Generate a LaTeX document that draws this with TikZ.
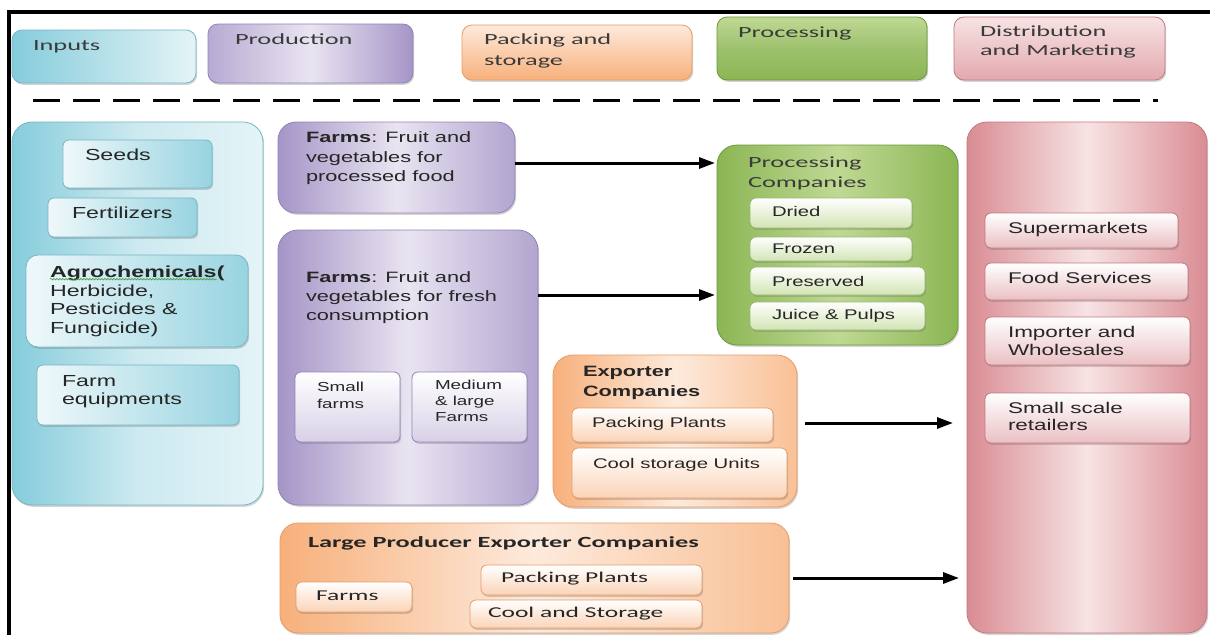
\documentclass[tikz,border=0pt]{standalone}
\usepackage{fontspec}
\newfontfamily\arialx{Liberation Sans}[FakeStretch=1.45]
\newfontfamily\calx{Carlito}[FakeStretch=1.7]
\usetikzlibrary{shadows,arrows.meta,decorations.pathmorphing}
\newcommand\fsz[2]{\fontsize{#1}{#2}\selectfont}

\definecolor{ink}{HTML}{262626}
\definecolor{inkc}{HTML}{3A3A3A}
\definecolor{blueD}{HTML}{86CCDB}
\definecolor{blueL}{HTML}{E4F4F7}
\definecolor{blueB}{HTML}{78B5C4}
\definecolor{purD}{HTML}{A595C7}
\definecolor{purL}{HTML}{E9E4F1}
\definecolor{purB}{HTML}{9383B6}
\definecolor{orD}{HTML}{F7B07B}
\definecolor{orL}{HTML}{FDEADC}
\definecolor{orB}{HTML}{E59D68}
\definecolor{grD}{HTML}{8BB654}
\definecolor{grL}{HTML}{BFD993}
\definecolor{grB}{HTML}{6C983A}
\definecolor{pkD}{HTML}{D98C93}
\definecolor{pkL}{HTML}{F7E3E4}
\definecolor{pkB}{HTML}{C47880}
\definecolor{squig}{HTML}{3E9A3E}

\begin{document}
\begin{tikzpicture}[x=1pt,y=-1pt,
  bx/.style={anchor=north west, inner sep=0pt, outer sep=0pt, line width=0.8pt},
  shd/.style={drop shadow={shadow xshift=1.2pt, shadow yshift=-1.8pt, opacity=0.28, fill=black!60}},
  big/.style={bx, shd, rounded corners=20pt},
  leg/.style={bx, shd, rounded corners=10pt},
  sub/.style={bx, shd, rounded corners=6pt},
  % colour schemes
  blueBig/.style={draw=blueB, left color=blueD, right color=blueL, middle color=blueL!75!blueD},
  blueSub/.style={draw=blueB, left color=blueL!60!white, right color=blueD!85},
  purBig/.style={draw=purB, left color=purD, right color=purD!85, middle color=purL},
  purSub/.style={draw=purB, top color=white, bottom color=purL!75!purD},
  orBig/.style={draw=orB, left color=orD, right color=orD!80, middle color=orL},
  orSub/.style={draw=orB, top color=white, bottom color=orD!55},
  grBig/.style={draw=grB, left color=grD, right color=grD, middle color=grL},
  grSub/.style={draw=grB!70, top color=white, bottom color=grL!70},
  pkBig/.style={draw=pkB, left color=pkD, right color=pkD, middle color=pkL},
  pkSub/.style={draw=pkB, top color=white, bottom color=pkD!55},
  % text styles
  txt/.style={anchor=north west, inner sep=0pt, outer sep=0pt, align=left, text=ink},
  legtxt/.style={txt, text=inkc, font=\calx\fsz{15.5}{20}},
  ar/.style={-{Triangle[length=16pt,width=11pt]}, line width=3pt, black},
]
\useasboundingbox (0,0) rectangle (1210,635);
\fill[white] (0,0) rectangle (1210,635);

% frame lines (left and top)
\draw[line width=4pt] (9,635) -- (9,12) -- (1210,12);

% ---------- legend row ----------
\node[leg, draw=blueB, left color=blueD, right color=blueL, minimum width=184pt, minimum height=53pt] (legIn) at (12,30) {};
\node[leg, draw=purB, left color=purD!80, right color=purD, middle color=purL, minimum width=205pt, minimum height=59pt] (legPr) at (208,24) {};
\node[leg, draw=orB, top color=orL, bottom color=orD, minimum width=230pt, minimum height=55pt] (legPk) at (462,25) {};
\node[leg, draw=grB, top color=grL, bottom color=grD, middle color=grD!85, minimum width=210pt, minimum height=63pt] (legPc) at (717,17) {};
\node[leg, draw=pkB, top color=pkL, bottom color=pkD!75, minimum width=211pt, minimum height=63pt] (legDi) at (954,17) {};

\node[legtxt] (tIn) at (33,41) {Inputs};
\node[legtxt] (tPr) at (235,34) {Production};
\node[legtxt, font=\calx\fsz{15.5}{21}] (tPk) at (484,34) {Packing and\\storage};
\node[legtxt] (tPc) at (738,27) {Processing};
\node[legtxt, font=\calx\fsz{15.5}{19}] (tDi) at (980,26) {Distribution\\and Marketing};

% dashed separator
\draw[line width=3pt, dash pattern=on 27pt off 13pt] (33,100) -- (1158,100);

% ---------- Inputs column ----------
\node[big, blueBig, minimum width=251pt, minimum height=383pt] (colIn) at (12,122) {};
\node[sub, blueSub, minimum width=149pt, minimum height=48pt] (seeds) at (63,140) {};
\node[sub, blueSub, minimum width=149pt, minimum height=39pt] (fert) at (48,198) {};
\node[sub, blueSub, rounded corners=12pt, minimum width=222pt, minimum height=92pt] (agro) at (26,255) {};
\node[sub, blueSub, minimum width=202pt, minimum height=60pt] (equip) at (37,365) {};

\node[txt, font=\arialx\fsz{16}{18.5}] (tSeeds) at (85,148.5) {Seeds};
\node[txt, font=\arialx\fsz{16}{18.5}] (tFert) at (72,206.5) {Fertilizers};
\node[anchor=base west, inner sep=0pt, text=ink, font=\arialx\fsz{16}{18.5}\bfseries] (tAgroA) at (50,277) {Agrochemicals};
\node[anchor=base west, inner sep=0pt, text=ink, font=\arialx\fsz{16}{18.5}\bfseries] (tAgroB) at (tAgroA.base east) {(};
\draw[squig, line width=0.6pt, decorate, decoration={snake, amplitude=0.8pt, segment length=3pt}]
  ([yshift=-2.2pt]tAgroA.base west) -- ([yshift=-2.2pt]tAgroA.base east);
\node[txt, font=\arialx\fsz{16}{18.5}] (tAgroC) at (50,284.5) {Herbicide,\\Pesticides \&\\Fungicide)};
\node[txt, font=\arialx\fsz{16}{18}] (tEquip) at (62,375.5) {Farm\\equipments};

% ---------- Production column ----------
\node[big, purBig, rounded corners=18pt, minimum width=237pt, minimum height=91pt] (fp) at (278,122) {};
\node[big, purBig, minimum width=260pt, minimum height=275pt] (ff) at (278,230) {};
\node[sub, purSub, minimum width=105pt, minimum height=70pt] (small) at (295,372) {};
\node[sub, purSub, minimum width=115pt, minimum height=70pt] (medium) at (412,372) {};

\node[txt, font=\arialx\fsz{15}{19.5}] (tFp) at (306,132) {\textbf{Farms}: Fruit and\\vegetables for\\processed food};
\node[txt, font=\arialx\fsz{15}{19}] (tFf) at (306,272) {\textbf{Farms}: Fruit and\\vegetables for fresh\\consumption};
\node[txt, font=\arialx\fsz{13}{17}] (tSmall) at (317,382.5) {Small\\farms};
\node[txt, font=\arialx\fsz{13}{16}] (tMedium) at (435,380.5) {Medium\\\& large\\Farms};

% ---------- Processing companies ----------
\node[big, grBig, minimum width=241pt, minimum height=200pt] (proc) at (717,145) {};
\node[sub, grSub, minimum width=162pt, minimum height=30pt] (dried) at (750,198) {};
\node[sub, grSub, minimum width=162pt, minimum height=24pt] (frozen) at (750,237) {};
\node[sub, grSub, minimum width=175pt, minimum height=28pt] (preserved) at (750,267) {};
\node[sub, grSub, minimum width=175pt, minimum height=28pt] (juice) at (750,302) {};

\node[legtxt, text=inkc, font=\calx\fsz{15.5}{20}] (tProc) at (748,157) {Processing\\Companies};
\node[txt, font=\arialx\fsz{14}{17}] (tDried) at (772,206) {Dried};
\node[txt, font=\arialx\fsz{14}{17}] (tFrozen) at (772,244) {Frozen};
\node[txt, font=\arialx\fsz{14}{17}] (tPres) at (772,276) {Preserved};
\node[txt, font=\arialx\fsz{14}{17}] (tJuice) at (772,309) {Juice \& Pulps};

% ---------- Exporter companies ----------
\node[big, orBig, minimum width=244pt, minimum height=152pt] (exp) at (553,355) {};
\node[sub, orSub, minimum width=201pt, minimum height=34pt] (expPack) at (572,408) {};
\node[sub, orSub, minimum width=215pt, minimum height=50pt] (expCool) at (572,448) {};

\node[txt, font=\arialx\fsz{15}{20}\bfseries] (tExp) at (583,366) {Exporter\\Companies};
\node[txt, font=\arialx\fsz{14}{17}] (tExpPack) at (592,417) {Packing Plants};
\node[txt, font=\arialx\fsz{14}{17}] (tExpCool) at (593,458) {Cool storage Units};

% ---------- Large producer exporter companies ----------
\node[big, orBig, rounded corners=18pt, minimum width=509pt, minimum height=110pt] (lp) at (280,523) {};
\node[sub, orSub, minimum width=116pt, minimum height=30pt] (lpFarms) at (296,582) {};
\node[sub, orSub, minimum width=221pt, minimum height=30pt] (lpPack) at (481,565) {};
\node[sub, orSub, minimum width=232pt, minimum height=28pt] (lpCool) at (470,600) {};

\node[txt, font=\calx\fsz{15.5}{19}\bfseries] (tLp) at (308,537) {Large Producer Exporter Companies};
\node[txt, font=\calx\fsz{15}{18}] (tLpFarms) at (316,590.5) {Farms};
\node[txt, font=\calx\fsz{15}{18}] (tLpPack) at (501,572.5) {Packing Plants};
\node[txt, font=\calx\fsz{15}{18}] (tLpCool) at (488,607.5) {Cool and Storage};

% ---------- Distribution column ----------
\node[big, pkBig, minimum width=240pt, minimum height=511pt] (dist) at (967,122) {};
\node[sub, pkSub, minimum width=193pt, minimum height=35pt] (super) at (985,213) {};
\node[sub, pkSub, minimum width=203pt, minimum height=37pt] (food) at (985,263) {};
\node[sub, pkSub, minimum width=205pt, minimum height=48pt] (importer) at (985,317) {};
\node[sub, pkSub, minimum width=205pt, minimum height=50pt] (retail) at (985,393) {};

\node[txt, font=\arialx\fsz{15.5}{18}] (tSuper) at (1008,222) {Supermarkets};
\node[txt, font=\arialx\fsz{15.5}{18}] (tFood) at (1008,272) {Food Services};
\node[txt, font=\arialx\fsz{15.5}{18}] (tImp) at (1008,326) {Importer and\\Wholesales};
\node[txt, font=\arialx\fsz{15.5}{17.5}] (tRetail) at (1008,402) {Small scale\\retailers};

% ---------- flow arrows ----------
\coordinate (y1) at (0,163);
\coordinate (y2) at (0,295);
\coordinate (y3) at (0,423);
\coordinate (y4) at (0,578);
\draw[ar, shorten >=2pt] (fp.east |- y1) -- (proc.west |- y1);
\draw[ar, shorten >=2pt] (ff.east |- y2) -- (proc.west |- y2);
\draw[ar, shorten <=8pt, shorten >=14pt] (exp.east |- y3) -- (dist.west |- y3);
\draw[ar, shorten <=4pt, shorten >=8pt] (lp.east |- y4) -- (dist.west |- y4);
\end{tikzpicture}
\end{document}
